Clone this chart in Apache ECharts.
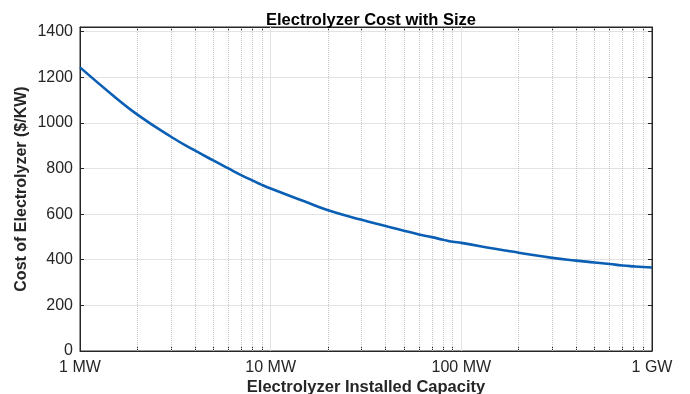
<!DOCTYPE html>
<html>
<head>
<meta charset="utf-8">
<script src="https://cdn.jsdelivr.net/npm/echarts@6/dist/echarts.min.js"></script>
<style>html,body{margin:0;padding:0;background:#fff}#c{width:690px;height:394px}</style>
</head>
<body>
<div id="c"></div>
<script>
// Capacity in MW
const capacity = [1,1.5,2,3,4,5,6,7,8,9,10,15,20,30,40,50,60,70,80,90,100,150,200,300,400,500,600,700,800,900,1000];
// Cost in $/kW
const cost = [1243,1118,1036,939,879,835,800,771,748,728,712,656,617,575,548,527,511,499,488,479,474,448,431,408,396,388,381,375,371,368,366];
const majorX = [1,10,100,1000];
const minorX = [2,3,4,5,6,7,8,9,20,30,40,50,60,70,80,90,200,300,400,500,600,700,800,900];
const xTickLabels = {1:'1 MW',10:'10 MW',100:'100 MW',1000:'1 GW'};
const yTicks = [0,200,400,600,800,1000,1200,1400];

const tickVals = majorX.concat(minorX).sort((a,b)=>a-b);
const fontFam = '"Liberation Sans", Arial, sans-serif';
const axisCol = '#262626';

const chart = echarts.init(document.getElementById('c'), null, {renderer:'canvas'});
const xBase = {
  type:'log', logBase:10, min:1, max:1000,
  axisLine:{show:true, onZero:false, lineStyle:{color:axisCol,width:1}},
  axisTick:{show:true, inside:true, length:4, customValues:tickVals, lineStyle:{color:axisCol}},
  splitLine:{show:false}, minorSplitLine:{show:false}
};
chart.setOption({
  animation:false,
  backgroundColor:'#fff',
  title:{text:'Electrolyzer Cost with Size', left:366, textAlign:'center', top:7,
    textStyle:{fontFamily:fontFam, fontSize:16.5, fontWeight:'bold', color:'#000'}},
  grid:{left:80, right:38, top:27, bottom:43, containLabel:false, outerBoundsMode:'none',
    show:true, borderColor:axisCol, borderWidth:1, backgroundColor:'transparent'},
  xAxis:[
    Object.assign({}, xBase, {
      position:'bottom',
      name:'Electrolyzer Installed Capacity', nameLocation:'middle', nameGap:28, nameMoveOverlap:false,
      nameTextStyle:{fontFamily:fontFam, fontSize:16.5, fontWeight:'bold', color:axisCol},
      axisLabel:{show:true, customValues:majorX, margin:9, fontFamily:fontFam, fontSize:16, color:axisCol,
        formatter:v=>xTickLabels[Math.round(v)] || ''}
    }),
    Object.assign({}, xBase, {position:'top', axisLabel:{show:false}})
  ],
  yAxis:[
    {type:'value', min:0, max:1420, interval:200, position:'left',
      name:'Cost of Electrolyzer ($/KW)', nameLocation:'middle', nameGap:50, nameMoveOverlap:false,
      nameTextStyle:{fontFamily:fontFam, fontSize:16, fontWeight:'bold', color:axisCol},
      axisLine:{show:true, lineStyle:{color:axisCol}},
      axisTick:{show:true, inside:true, length:4, lineStyle:{color:axisCol}},
      axisLabel:{showMaxLabel:false, margin:7, fontFamily:fontFam, fontSize:16, color:axisCol,
        formatter:v=>yTicks.includes(v)?String(v):''},
      splitLine:{show:true, lineStyle:{color:'#e3e3e3', width:1}}},
    {type:'value', min:0, max:1420, interval:200, position:'right',
      axisLine:{show:true, lineStyle:{color:axisCol}},
      axisTick:{show:true, inside:true, length:4, lineStyle:{color:axisCol}},
      axisLabel:{show:false}, splitLine:{show:false}}
  ],
  series:[
    {type:'line', data:[], z:1, silent:true,
      markLine:{silent:true, symbol:'none', label:{show:false}, animation:false,
        data: minorX.map(v=>({xAxis:v, lineStyle:{type:'dotted', color:'#c4c4c4', width:1}}))
          .concat([10,100].map(v=>({xAxis:v, lineStyle:{type:'solid', color:'#e3e3e3', width:1}})))}},
    {type:'line', z:5, data:capacity.map((c,i)=>[c,cost[i]]), smooth:0.5, showSymbol:false,
      lineStyle:{color:'#0a5fb4', width:2.6}, itemStyle:{color:'#0a5fb4'}}
  ]
});
</script>
</body>
</html>
